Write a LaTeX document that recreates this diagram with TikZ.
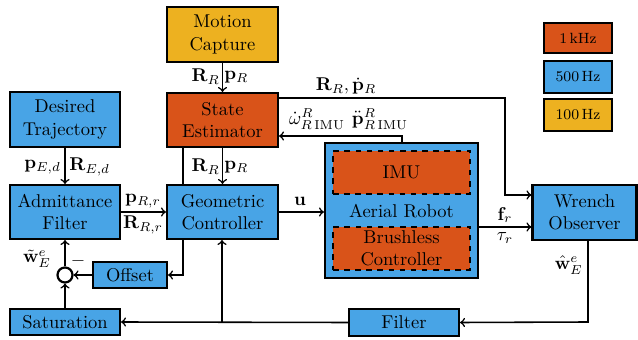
\documentclass[tikz,border=0pt]{standalone}
\usetikzlibrary{backgrounds}
\definecolor{cblue}{RGB}{72,164,230}
\definecolor{corange}{RGB}{217,83,25}
\definecolor{cyellow}{RGB}{237,177,32}
\begin{document}
\begin{tikzpicture}[x=0.54pt,y=-0.54pt,
  blk/.style={draw=black,line width=1.2pt,fill=cblue,align=center,inner sep=0pt},
  sz/.style 2 args={minimum width=#1*0.54pt,minimum height=#2*0.54pt},
  dsh/.style={draw=black,dashed,line width=1.2pt,fill=corange,align=center,inner sep=0pt},
  arr/.style={->,line width=0.85pt},
  lbl/.style={inner sep=0.5pt}]
\useasboundingbox (0,0) rectangle (638,340);
% blocks
\node[blk,sz={110}{55}] (dt) at (65,119.5) {Desired\\Trajectory};
\node[blk,sz={110}{54}] (af) at (65,212) {Admittance\\Filter};
\node[blk,sz={111}{55},fill=cyellow] (mc) at (222.5,34.5) {Motion\\Capture};
\node[blk,sz={111}{54},fill=corange] (se) at (222.5,120) {State\\Estimator};
\node[blk,sz={111}{54}] (gc) at (222.5,212) {Geometric\\Controller};
\node[blk,sz={74}{26}] (off) at (130,275) {Offset};
\node[circle,draw=black,line width=1.2pt,fill=white,minimum size=15*0.54pt,inner sep=0pt] (sum) at (65,275) {};
\node[blk,sz={110}{26}] (sat) at (65,322) {Saturation};
\node[blk,sz={153}{135}] (ar) at (401.5,210.5) {};
\node[dsh,sz={137}{43}] (imu) at (401.5,172.5) {IMU};
\node[dsh,sz={137}{43}] (bc) at (401.5,248.5) {Brushless\\Controller};
\node[inner sep=0pt] (art) at (401.5,211) {Aerial Robot};
\node[blk,sz={104}{55}] (wo) at (584.5,212.5) {Wrench\\Observer};
\node[blk,sz={110}{27}] (flt) at (404,322.5) {Filter};
% legend
\node[blk,sz={68}{30},fill=corange,font=\footnotesize] (l1) at (578,38) {1\,kHz};
\node[blk,sz={68}{32},font=\footnotesize] (l2) at (578,77) {500\,Hz};
\node[blk,sz={68}{32},fill=cyellow,font=\footnotesize] (l3) at (578,115) {100\,Hz};
% coordinates
\coordinate (c1) at (505,98);
\coordinate (c2) at (505,195);
\coordinate (c3) at (402,136);
\coordinate (c4) at (588,322);
\coordinate (c5) at (222,322);
\coordinate (c6) at (183,275);
% background line SE -> Offset
\begin{pgfonlayer}{background}
\draw[arr] (se.south -| c6) -- (c6) -- (off.east);
\end{pgfonlayer}
% connectors
\draw[arr] (mc.south) -- (se.north);
\draw[arr] (se.south) -- (gc.north);
\draw[arr] (dt.south) -- (af.north);
\draw[arr] (af.east) -- (gc.west);
\draw[arr] (gc.east) -- (ar.west |- gc.east);
\draw[arr] (ar.east |- 0,227) -- (wo.west |- 0,227);
\draw[arr] (se.east |- c1) -- (c1) -- (c2) -- (wo.west |- c2);
\draw[arr] (ar.north -| c3) -- (c3) -- (se.east |- c3);
\draw[arr] (wo.south -| c4) -- (c4) -- (flt.east);
\draw[arr] (flt.west) -- (sat.east);
\draw[arr] (c5) -- (gc.south -| c5);
\draw[arr] (sat.north) -- (sum.south);
\draw[arr] (sum.north) -- (af.south);
\draw[arr] (off.west) -- (sum.east);
% labels
\node[lbl,anchor=east] (t1) at (221,77) {$\mathbf{R}_R$};
\node[lbl,anchor=west] (t2) at (223,77) {$\mathbf{p}_R$};
\node[lbl,anchor=east] (t3) at (221,167) {$\mathbf{R}_R$};
\node[lbl,anchor=west] (t4) at (223,167) {$\mathbf{p}_R$};
\node[lbl,anchor=east] (t5) at (62,167) {$\mathbf{p}_{E,d}$};
\node[lbl,anchor=west] (t6) at (68,167) {$\mathbf{R}_{E,d}$};
\node[lbl] (t7) at (143,201) {$\mathbf{p}_{R,r}$};
\node[lbl] (t8) at (143,225) {$\mathbf{R}_{R,r}$};
\node[lbl] (t9) at (300,201) {$\mathbf{u}$};
\node[lbl] (t10) at (505,215) {$\mathbf{f}_r$};
\node[lbl] (t11) at (505,238) {$\tau_r$};
\node[lbl] (t12) at (346,86) {$\mathbf{R}_R,\dot{\mathbf{p}}_R$};
\node[lbl] (t13) at (317,119) {$\dot{\omega}^R_{R\,\mathrm{IMU}}$};
\node[lbl] (t14) at (380,119) {$\ddot{\mathbf{p}}^R_{R\,\mathrm{IMU}}$};
\node[lbl,anchor=east] (t15) at (584,265) {$\hat{\mathbf{w}}^e_E$};
\node[lbl] (t16) at (37,259) {$\tilde{\mathbf{w}}^e_E$};
\node[lbl] (t17) at (78,261) {$-$};
\end{tikzpicture}
\end{document}
